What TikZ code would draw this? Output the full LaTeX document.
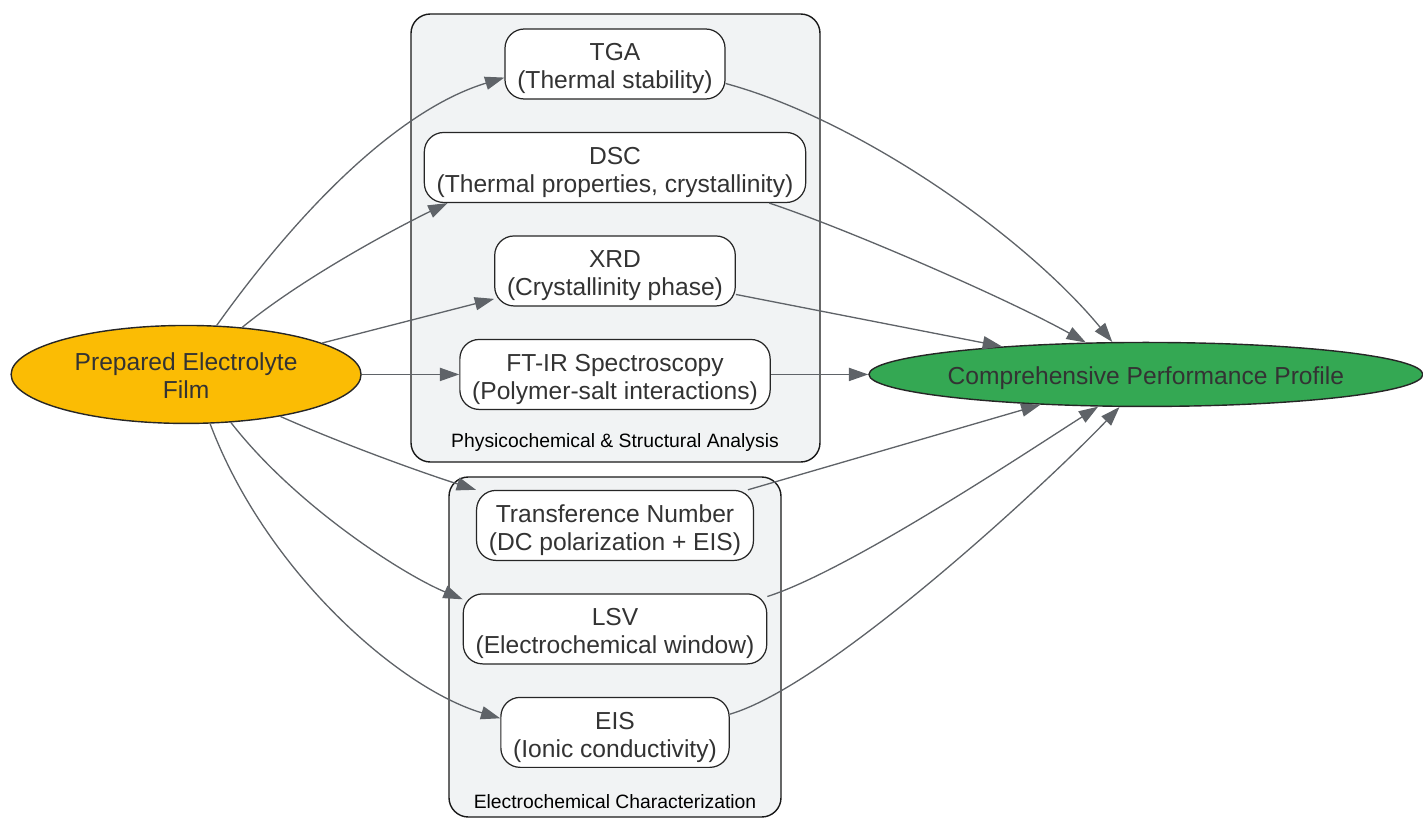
\documentclass[tikz,border=0pt]{standalone}
\usepackage{fontspec}
\setmainfont{Liberation Sans}
\usepackage{tikz}
\usetikzlibrary{shapes.geometric, arrows.meta}
\definecolor{filmyellow}{HTML}{FBBC04}
\definecolor{profilegreen}{HTML}{34A853}
\definecolor{clustergray}{HTML}{F1F3F4}
\definecolor{edgegray}{HTML}{5F6368}
\definecolor{textgray}{HTML}{333333}
\tikzstyle{source} = [ellipse, minimum width=7cm, minimum height=1.96cm, inner sep=0pt, text height=27pt, text depth=0pt, align=center, draw=black!85, line width=0.8pt, fill=filmyellow, text=textgray]
\tikzstyle{target} = [ellipse, minimum width=11.08cm, minimum height=1.28cm, inner xsep=-2.5pt, inner ysep=0pt, text height=11.2pt, text depth=0pt, draw=black!85, line width=0.8pt, fill=profilegreen, text=textgray]
\tikzstyle{method} = [rectangle, rounded corners=11pt, minimum height=1.4cm, inner xsep=7pt, inner ysep=2pt, text height=28.4pt, text depth=0pt, align=center, draw=black!85, line width=0.7pt, fill=white, text=textgray]
\tikzstyle{cluster} = [rounded corners=11pt, draw=black!90, line width=0.8pt, fill=clustergray]
\tikzstyle{clusterlabel} = [font=\fontsize{11}{13}\selectfont, text=black]
\tikzstyle{arrow} = [line width=0.75pt, draw=edgegray, ->, >={Triangle[length=11pt,width=7.5pt]}]

\begin{document}
\begin{tikzpicture}[x=0.02cm, y=-0.02cm, node distance=2.07cm, font=\fontsize{14}{16}\selectfont]
        \useasboundingbox (0,0) rectangle (1423,818);

        % Clusters
        \draw [cluster] (411,14) rectangle (820,462);
        \draw [cluster] (449,477) rectangle (781,817);
        \node (physlabel) [clusterlabel] at (615,442) {Physicochemical \& Structural Analysis};
        \node (echemlabel) [clusterlabel] at (615,802) {Electrochemical Characterization};

        % Nodes
        \node (tga) [method] at (615,64) {TGA\\(Thermal stability)};
        \node (dsc) [method, below of=tga] {DSC\\(Thermal properties, crystallinity)};
        \node (xrd) [method, below of=dsc] {XRD\\(Crystallinity phase)};
        \node (ftir) [method, below of=xrd] {FT-IR Spectroscopy\\(Polymer-salt interactions)};
        \node (trans) [method, node distance=3.02cm, below of=ftir] {Transference Number\\(DC polarization + EIS)};
        \node (lsv) [method, below of=trans] {LSV\\(Electrochemical window)};
        \node (eis) [method, below of=lsv] {EIS\\(Ionic conductivity)};
        \node (film) [source, node distance=8.58cm, left of=ftir] {Prepared Electrolyte\\Film};
        \node (profile) [target, node distance=10.62cm, right of=ftir] {Comprehensive Performance Profile};

        % Arrows
        \draw [arrow] (film.58) .. controls (307,199) and (404,108) .. (tga.187);
        \draw [arrow] (film.40) .. controls (305,276) and (400,226) .. (dsc.192);
        \draw [arrow] (film.13) -- (xrd.193);
        \draw [arrow] (film.east) -- (ftir.west);
        \draw [arrow] (film.336) .. controls (340,443) and (420,472) .. (trans.north west);
        \draw [arrow] (film.313) .. controls (295,505) and (402,574) .. (lsv.169);
        \draw [arrow] (film.296) .. controls (265,570) and (398,688) .. (eis.173);
        \draw [arrow] (tga.350) .. controls (857,119) and (1023,234) .. (profile.136);
        \draw [arrow] (dsc.347) .. controls (850,230) and (1010,300) .. (profile.152);
        \draw [arrow] (xrd.349) -- (profile.169);
        \draw [arrow] (ftir.east) -- (profile.west);
        \draw [arrow] (trans.15) -- (profile.196);
        \draw [arrow] (lsv.12) .. controls (850,570) and (1030,450) .. (profile.214);
        \draw [arrow] (eis.9) .. controls (830,685) and (1050,480) .. (profile.231);
    \end{tikzpicture}
\end{document}
